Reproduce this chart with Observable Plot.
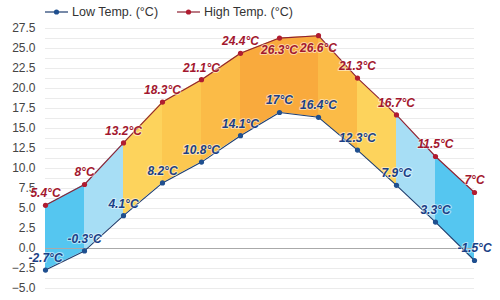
<!DOCTYPE html>
<html><head><meta charset="utf-8">
<script src="https://cdn.jsdelivr.net/npm/d3@7"></script>
<script src="https://cdn.jsdelivr.net/npm/@observablehq/plot@0.6"></script>
<style>
body{margin:0;background:#fff;font-family:"Liberation Sans",Arial,sans-serif;}
#legend{position:relative;height:22px;font-size:12.5px;color:#333;}
.item{position:absolute;top:4px;display:flex;align-items:center;height:16px;}
.item svg{margin-right:4px;}
</style></head><body>
<div id="legend"></div>
<div id="chart"></div>
<script>
const months = ["Jan","Feb","Mar","Apr","May","Jun","Jul","Aug","Sep","Oct","Nov","Dec"];
const lowTemps = [-2.7, -0.3, 4.1, 8.2, 10.8, 14.1, 17, 16.4, 12.3, 7.9, 3.3, -1.5];
const highTemps = [5.4, 8, 13.2, 18.3, 21.1, 24.4, 26.3, 26.6, 21.3, 16.7, 11.5, 7];
const segmentColors = ["#55c6f0","#a7def5","#fdd35c","#fcc850","#fbbb47","#f9aa3d","#f9aa3d","#fbbb47","#fdd35c","#a7def5","#55c6f0"];
const yTicks = [-5, -2.5, 0, 2.5, 5, 7.5, 10, 12.5, 15, 17.5, 20, 22.5, 25, 27.5];
const seriesNames = ["Low Temp. (°C)", "High Temp. (°C)"];
const lineColors = ["#1d3d6e", "#8e2232"];
const dotColors = ["#1f4f8f", "#b01c30"];
const labelColors = ["#1b3f86", "#a3172e"];

// legend
const legend = document.getElementById("legend");
const legendLeft = [45, 177];
seriesNames.forEach((name, k) => {
  const div = document.createElement("div");
  div.className = "item";
  div.style.left = legendLeft[k] + "px";
  div.innerHTML = `<svg width="23" height="8"><line x1="0" x2="23" y1="4" y2="4" stroke="${lineColors[k]}" stroke-width="1.2"/><circle cx="11.5" cy="4" r="2.6" fill="${dotColors[k]}"/></svg><span>${name}</span>`;
  legend.appendChild(div);
});

const data = months.map((m, i) => ({i, month: m, low: lowTemps[i], high: highTemps[i]}));
const segs = [];
for (let s = 0; s < months.length - 1; s++) {
  for (const i of [s, s + 1]) segs.push({seg: s, i, low: lowTemps[i], high: highTemps[i], color: segmentColors[s]});
}
const gridVals = d3.range(-5, 27.5 + 1e-6, 1.25);
const fmt = v => `${v}°C`;
const labelFont = {fontSize: 12, fontWeight: "bold", fontStyle: "italic", stroke: "white", strokeWidth: 2, strokeOpacity: 0.5};

const chart = Plot.plot({
  width: 500, height: 278,
  marginLeft: 45, marginRight: 26, marginTop: 6, marginBottom: 12,
  style: {fontFamily: "Liberation Sans, Arial, sans-serif", fontSize: "12px", color: "#444", background: "#fff"},
  x: {domain: [0, 11], axis: null},
  y: {domain: [-5, 27.5], ticks: yTicks, tickFormat: d3.format(".1f"), label: null, tickSize: 0, tickPadding: 10},
  color: {type: "identity"},
  marks: [
    Plot.ruleY(gridVals, {stroke: "#ebebeb", strokeWidth: 1}),
    Plot.areaY(segs, {x: "i", y1: "low", y2: "high", z: "seg", fill: "color"}),
    Plot.ruleY([0], {stroke: "#aaaaaa", strokeWidth: 1.2}),
    Plot.line(data, {x: "i", y: "low", stroke: lineColors[0], strokeWidth: 1.1}),
    Plot.line(data, {x: "i", y: "high", stroke: lineColors[1], strokeWidth: 1.1}),
    Plot.dot(data, {x: "i", y: "low", r: 2.6, fill: dotColors[0]}),
    Plot.dot(data, {x: "i", y: "high", r: 2.6, fill: dotColors[1]}),
    Plot.text(data, {x: "i", y: "low", text: d => fmt(d.low), dy: -12, fill: labelColors[0], ...labelFont}),
    Plot.text(data.filter(d => d.high <= 25), {x: "i", y: "high", text: d => fmt(d.high), dy: -12, fill: labelColors[1], ...labelFont}),
    Plot.text(data.filter(d => d.high > 25), {x: "i", y: "high", text: d => fmt(d.high), dy: 12, fill: labelColors[1], ...labelFont})
  ]
});
document.getElementById("chart").appendChild(chart);
</script>
</body></html>
